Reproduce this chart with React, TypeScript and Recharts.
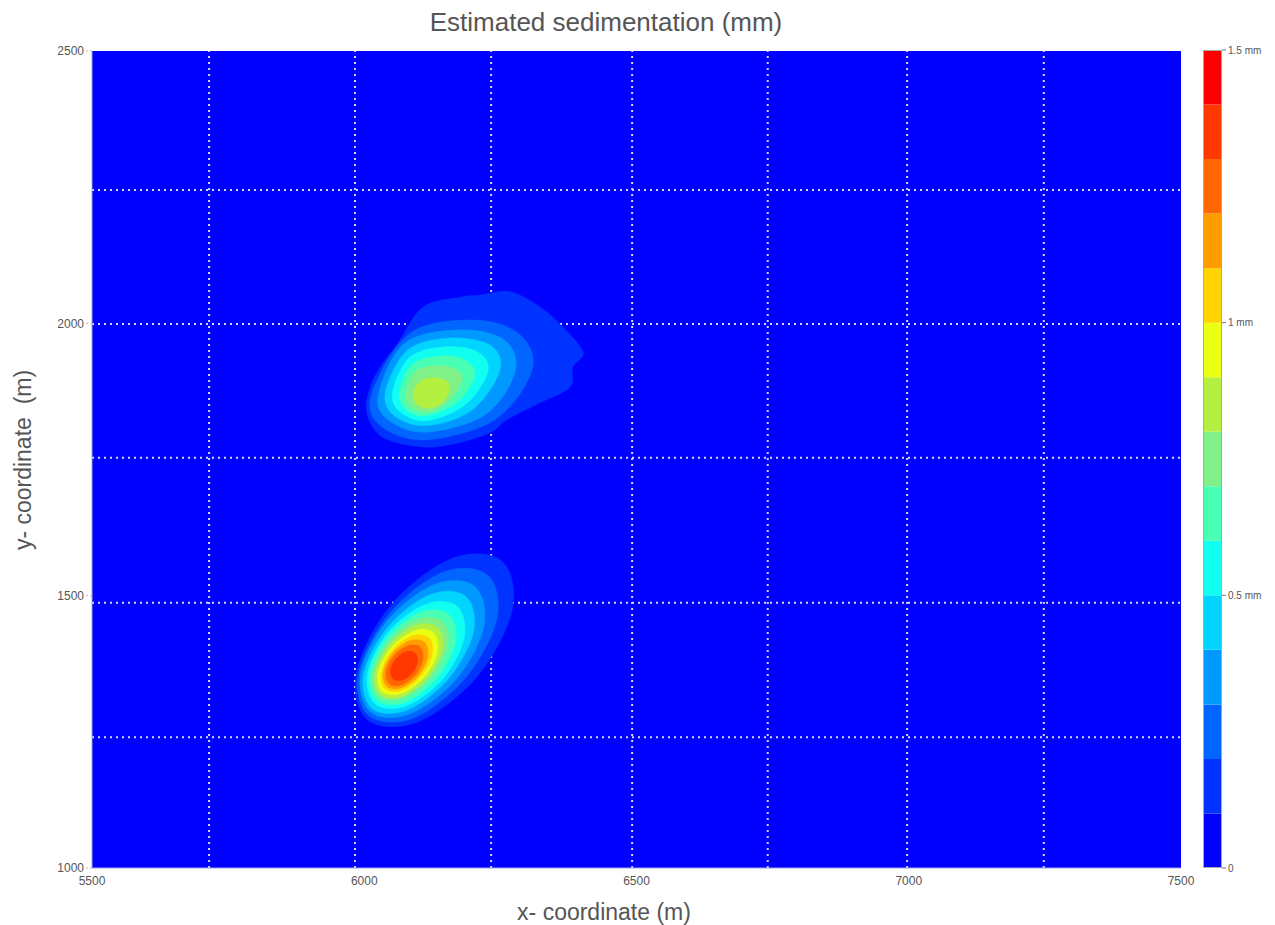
import React from 'react';
import { ScatterChart, Scatter, XAxis, YAxis, CartesianGrid, ReferenceLine, BarChart, Bar } from 'recharts';

type Pt = [number, number];

// colour of each 0.1 mm band, 0 .. 1.5 mm
const bandColors = [
  '#0000ff', '#0033ff', '#0066ff', '#0099ff', '#00d4ff',
  '#10fff0', '#48ffb4', '#80f088', '#b4f040', '#eaff12',
  '#ffd400', '#ff9c00', '#ff6800', '#ff3800', '#ff0000',
];
const bandSizes = [0.1, 0.1, 0.1, 0.1, 0.1, 0.1, 0.1, 0.1, 0.1, 0.1, 0.1, 0.1, 0.1, 0.1, 0.1];
const colorbarTicks = [0, 0.5, 1, 1.5];

const xTicks = [5500, 6000, 6500, 7000, 7500];
const yTicks = [1000, 1500, 2000, 2500];
const xGridLines = [5715, 5983, 6233, 6492, 6741, 6997, 7248];
const yGridLines = [1240, 1487, 1753, 1999, 2245];

// lower deposit, contours 0.1 .. 1.3 mm
const lower01: Pt[] = [[6252, 1564], [6160, 1568], [6050, 1484], [5986, 1361], [6006, 1272], [6098, 1268], [6208, 1352], [6272, 1475]];
const lower02: Pt[] = [[6226, 1538], [6144, 1543], [6047, 1468], [5990, 1359], [6008, 1280], [6090, 1275], [6187, 1350], [6244, 1459]];
const lower03: Pt[] = [[6203, 1517], [6130, 1521], [6043, 1455], [5994, 1359], [6011, 1287], [6084, 1283], [6171, 1349], [6220, 1445]];
const lower04: Pt[] = [[6186, 1499], [6121, 1502], [6044, 1443], [5999, 1357], [6014, 1293], [6079, 1290], [6156, 1349], [6201, 1435]];
const lower05: Pt[] = [[6170, 1481], [6112, 1484], [6044, 1433], [6006, 1358], [6020, 1301], [6078, 1298], [6146, 1349], [6184, 1424]];
const lower06: Pt[] = [[6155, 1466], [6104, 1470], [6044, 1425], [6010, 1358], [6023, 1308], [6074, 1304], [6134, 1349], [6168, 1416]];
const lower07: Pt[] = [[6143, 1453], [6098, 1456], [6046, 1417], [6016, 1358], [6027, 1315], [6072, 1312], [6124, 1351], [6154, 1410]];
const lower08: Pt[] = [[6134, 1442], [6094, 1445], [6047, 1410], [6020, 1357], [6030, 1318], [6070, 1315], [6117, 1350], [6144, 1403]];
const lower09: Pt[] = [[6126, 1433], [6091, 1435], [6049, 1404], [6025, 1357], [6034, 1323], [6069, 1321], [6111, 1352], [6135, 1399]];
const lower10: Pt[] = [[6118, 1423], [6087, 1426], [6051, 1399], [6031, 1358], [6038, 1329], [6069, 1326], [6105, 1353], [6125, 1394]];
const lower11: Pt[] = [[6110, 1415], [6083, 1417], [6052, 1394], [6035, 1359], [6042, 1333], [6069, 1331], [6100, 1354], [6117, 1389]];
const lower12: Pt[] = [[6102, 1406], [6080, 1408], [6054, 1389], [6040, 1360], [6046, 1338], [6068, 1336], [6094, 1355], [6108, 1384]];
const lower13: Pt[] = [[6093, 1395], [6076, 1397], [6058, 1384], [6048, 1363], [6053, 1347], [6070, 1345], [6088, 1358], [6098, 1379]];

// upper deposit, contours 0.1 .. 0.8 mm
const upper01: Pt[] = [
  [6062, 1964], [6108, 2030], [6176, 2048], [6213, 2052], [6268, 2058], [6323, 2030], [6365, 1993],
  [6402, 1947], [6383, 1920], [6378, 1883], [6323, 1854], [6262, 1823], [6231, 1799], [6170, 1780],
  [6108, 1773], [6034, 1791], [6005, 1835], [6011, 1883], [6034, 1927],
];
const upper02: Pt[] = [[6308, 1914], [6286, 1979], [6203, 2006], [6084, 1982], [6014, 1872], [6029, 1813], [6112, 1786], [6240, 1823]];
const upper03: Pt[] = [[6277, 1911], [6258, 1969], [6176, 1988], [6075, 1964], [6027, 1874], [6040, 1826], [6112, 1800], [6222, 1832]];
const upper04: Pt[] = [[6249, 1914], [6231, 1960], [6157, 1973], [6080, 1951], [6040, 1878], [6051, 1834], [6112, 1812], [6198, 1841]];
const upper05: Pt[] = [[6227, 1911], [6209, 1947], [6148, 1957], [6084, 1938], [6053, 1878], [6062, 1841], [6112, 1821], [6185, 1850]];
const upper06: Pt[] = [[6203, 1905], [6185, 1933], [6139, 1940], [6088, 1925], [6066, 1878], [6073, 1845], [6112, 1830], [6172, 1856]];
const upper07: Pt[] = [[6180, 1896], [6167, 1916], [6130, 1922], [6093, 1911], [6077, 1874], [6084, 1848], [6117, 1837], [6157, 1859]];
const upper08: Pt[] = [[6157, 1883], [6148, 1896], [6121, 1900], [6099, 1890], [6090, 1868], [6099, 1850], [6124, 1845], [6148, 1859]];

const lowerBlob = [lower01, lower02, lower03, lower04, lower05, lower06, lower07, lower08, lower09, lower10, lower11, lower12, lower13];
const upperBlob = [upper01, upper02, upper03, upper04, upper05, upper06, upper07, upper08];

const contours = [
  ...lowerBlob.map((pts, i) => ({ band: i + 1, pts })),
  ...upperBlob.map((pts, i) => ({ band: i + 1, pts })),
];

const colorbarRow = [{ name: 'scale', ...Object.fromEntries(bandSizes.map((v, i) => [`b${i}`, v])) }];

const font = '"Liberation Sans", Arial, sans-serif';
const textColor = '#555';

// smooth closed curve through the projected contour points
const closedPath = (pts: { x: number; y: number }[]) => {
  const n = pts.length;
  let d = `M${pts[0].x},${pts[0].y}`;
  for (let i = 0; i < n; i++) {
    const p0 = pts[(i - 1 + n) % n];
    const p1 = pts[i];
    const p2 = pts[(i + 1) % n];
    const p3 = pts[(i + 2) % n];
    d += ` C${p1.x + (p2.x - p0.x) / 6},${p1.y + (p2.y - p0.y) / 6} ${p2.x - (p3.x - p1.x) / 6},${p2.y - (p3.y - p1.y) / 6} ${p2.x},${p2.y}`;
  }
  return d + 'Z';
};

const noSymbol = () => <g />;

const App = () => {
  return (
    <div style={{ position: 'absolute', left: 0, top: 0, width: 1275, height: 925, background: '#fff', fontFamily: font }}>
      <div style={{ position: 'absolute', left: 0, top: 7, width: 1212, textAlign: 'center', fontSize: 26, color: textColor }}>
        Estimated sedimentation (mm)
      </div>

      <div style={{ position: 'absolute', left: 0, top: 0 }}>
        <ScatterChart width={1275} height={925} margin={{ top: 51, right: 94, bottom: 17, left: 32 }}>
          <CartesianGrid fill="#0000ff" fillOpacity={1} stroke="none" horizontal={false} vertical={false} />
          <XAxis
            type="number"
            dataKey="x"
            domain={[5500, 7500]}
            ticks={xTicks}
            height={40}
            axisLine={{ stroke: '#a0a0f0' }}
            tickLine={false}
            tick={{ fontSize: 12, fill: textColor, fontFamily: font }}
          />
          <YAxis
            type="number"
            dataKey="y"
            domain={[1000, 2500]}
            ticks={yTicks}
            width={60}
            axisLine={{ stroke: '#a0a0f0' }}
            tickLine={{ stroke: '#bbb', strokeDasharray: '2 2' }}
            tick={{ fontSize: 12, fill: textColor, fontFamily: font }}
          />
          {contours.map((c, i) => (
            <Scatter
              key={i}
              data={c.pts.map(([x, y]) => ({ x, y }))}
              isAnimationActive={false}
              shape={noSymbol}
              line={(p: any) => (
                <path d={closedPath(p.points)} fill={bandColors[c.band]} stroke={bandColors[c.band]} strokeWidth={0.5} />
              )}
            />
          ))}
          {xGridLines.map((v) => (
            <ReferenceLine key={`gx${v}`} x={v} stroke="#d8d8e4" strokeWidth={2} strokeDasharray="2 4" />
          ))}
          {yGridLines.map((v) => (
            <ReferenceLine key={`gy${v}`} y={v} stroke="#d8d8e4" strokeWidth={2} strokeDasharray="2 4" />
          ))}
        </ScatterChart>
      </div>

      <div style={{ position: 'absolute', left: 1203, top: 44 }}>
        <BarChart width={71} height={830} data={colorbarRow} margin={{ top: 6, right: 0, bottom: 6, left: 0 }} barCategoryGap={0}>
          <XAxis dataKey="name" type="category" hide />
          <YAxis
            orientation="right"
            type="number"
            domain={[0, 1.5]}
            allowDataOverflow
            ticks={colorbarTicks}
            width={52}
            axisLine={false}
            tickSize={4}
            tickLine={{ stroke: '#777' }}
            tickFormatter={(v: number) => (v === 0 ? '0' : `${v} mm`)}
            tick={{ fontSize: 10, fill: textColor, fontFamily: font }}
          />
          {bandColors.map((col, i) => (
            <Bar key={i} dataKey={`b${i}`} stackId="bar" fill={col} isAnimationActive={false} />
          ))}
        </BarChart>
      </div>
      <div style={{ position: 'absolute', left: 1203, top: 50, width: 19, height: 818, border: '1px solid #aaa', boxSizing: 'border-box', pointerEvents: 'none' }} />

      <div style={{ position: 'absolute', left: 0, top: 899, width: 1208, textAlign: 'center', fontSize: 23, color: textColor }}>
        x- coordinate (m)
      </div>
      <div
        style={{
          position: 'absolute', left: -76, top: 446, width: 200, height: 28, textAlign: 'center',
          fontSize: 23, color: textColor, transform: 'rotate(-90deg)', whiteSpace: 'pre',
        }}
      >
        {'y- coordinate  (m)'}
      </div>
    </div>
  );
};

export default App;
